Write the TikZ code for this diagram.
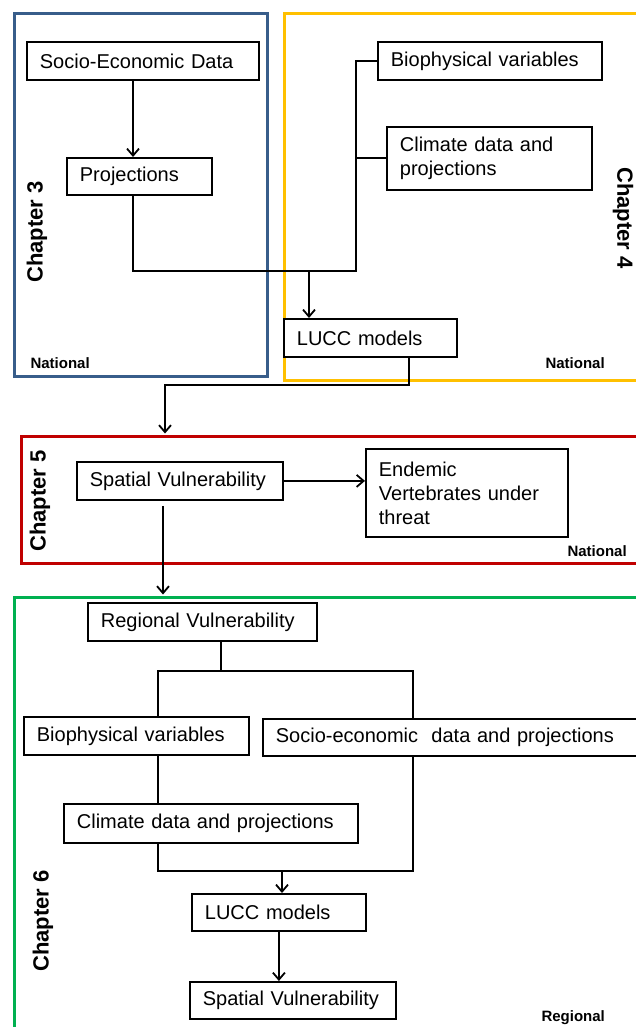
\documentclass[tikz,border=0pt]{standalone}
\usepackage{fontspec}
\setmainfont{Liberation Sans}
\usetikzlibrary{arrows.meta}
\definecolor{chapblue}{HTML}{385D8A}
\definecolor{chapyellow}{HTML}{FFC000}
\definecolor{chapred}{HTML}{C00000}
\definecolor{chapgreen}{HTML}{00B050}

\begin{document}
\begin{tikzpicture}[x=1pt,y=-1pt]
			\tikzstyle{frame}=[line width=3pt, anchor=north west, inner sep=0pt]
			\tikzstyle{blk}=[draw, fill=white, line width=1.8pt, anchor=north west, inner xsep=13pt, inner ysep=0pt, align=left, font=\fontsize{20}{24}\selectfont]
			\tikzstyle{chap}=[font=\bfseries\fontsize{22}{26}\selectfont]
			\tikzstyle{lvl}=[anchor=west, font=\bfseries\fontsize{15}{18}\selectfont]
			\tikzstyle{ln}=[line width=1.8pt]
			\tikzstyle{arr}=[ln, -{Straight Barb[length=7pt,width=12pt]}]

			\useasboundingbox (0,0) rectangle (636,1027);

			% chapter frames
			\node[frame, draw=chapblue, minimum width=253pt, minimum height=363pt] (ch3) at (13,12) {};
			\node[frame, draw=chapyellow, minimum width=370pt, minimum height=367pt] (ch4) at (283,12) {};
			\node[frame, draw=chapred, minimum width=630pt, minimum height=127pt] (ch5) at (20,435) {};
			\node[frame, draw=chapgreen, minimum width=640pt, minimum height=450pt] (ch6) at (13,596) {};

			\node[chap, rotate=90] (c3) at (37,232) {Chapter 3};
			\node[chap, rotate=-90] (c4) at (623,218) {Chapter 4};
			\node[chap, rotate=90] (c5) at (40,501) {Chapter 5};
			\node[chap, rotate=90] (c6) at (43,921) {Chapter 6};

			\node[lvl] (n3) at (27,363) {National};
			\node[lvl] (n4) at (542,363) {National};
			\node[lvl] (n5) at (564,551) {National};
			\node[lvl] (n6) at (538,1018) {Regional};

			% national level
			\node[blk, text width=206pt, minimum height=38pt] (socio) at (26,41) {Socio-Economic Data};
			\node[blk, text width=119pt, minimum height=37pt] (proj) at (66,157) {Projections};
			\node[blk, text width=198pt, minimum height=38pt] (bio1) at (377,41) {Biophysical variables};
			\node[blk, text width=179pt, minimum height=63pt] (clim1) at (386,126) {Climate data and\\projections};
			\node[blk, text width=147pt, minimum height=38pt] (lucc1) at (283,318) {LUCC models};
			\node[blk, text width=180pt, minimum height=38pt] (spat1) at (76,461) {Spatial Vulnerability};
			\node[blk, text width=176pt, minimum height=88pt] (ende) at (365,448) {Endemic\\Vertebrates under\\threat};

			% regional level
			\node[blk, text width=203pt, minimum height=38pt] (reg) at (87,602) {Regional Vulnerability};
			\node[blk, text width=199pt, minimum height=38pt] (bio2) at (23,716) {Biophysical variables};
			\node[blk, text width=357pt, minimum height=37pt] (soc2) at (262,718) {Socio-economic~ data and projections};
			\node[blk, text width=268pt, minimum height=39pt] (clim2) at (63,803) {Climate data and projections};
			\node[blk, text width=148pt, minimum height=37pt] (lucc2) at (191,893) {LUCC models};
			\node[blk, text width=180pt, minimum height=37pt] (spat2) at (189,981) {Spatial Vulnerability};

			\coordinate (ja) at (133,271);
			\coordinate (jb) at (356,271);
			\coordinate (jc) at (309,271);
			\coordinate (jd) at (409,385);
			\coordinate (je) at (165,385);
			\coordinate (jk) at (163,590);
			\coordinate (jf) at (221,671);
			\coordinate (jg) at (158,671);
			\coordinate (jh) at (413,671);
			\coordinate (ji) at (413,871);
			\coordinate (jj) at (282,871);

			\draw[arr] (socio.south -| ja) -- (proj.north -| ja);
			\draw[ln] (proj.south -| ja) -- (ja) -- (jb) |- (bio1.west);
			\draw[ln] (clim1.west) -- (clim1.west -| jb);
			\draw[arr] (jc) -- (jc |- lucc1.north);
			\draw[arr, shorten >=1.5pt] (lucc1.south -| jd) -- (jd) -- (je) -- (je |- ch5.north);
			\draw[arr] (spat1.east) -- (spat1.east -| ende.west);
			\draw[arr, shorten <=5pt, shorten >=1.5pt] (spat1.south -| jk) -- (jk |- ch6.north);

			\draw[ln] (reg.south -| jf) -- (jf);
			\draw[ln] (bio2.north -| jg) -- (jg) -- (jh) -- (soc2.north -| jh);
			\draw[ln] (bio2.south -| jg) -- (clim2.north -| jg);
			\draw[ln] (clim2.south -| jg) |- (ji) -- (soc2.south -| ji);
			\draw[arr] (jj) -- (lucc2.north -| jj);
			\draw[arr] (lucc2.south) -- (lucc2.south |- spat2.north);
\end{tikzpicture}
\end{document}
